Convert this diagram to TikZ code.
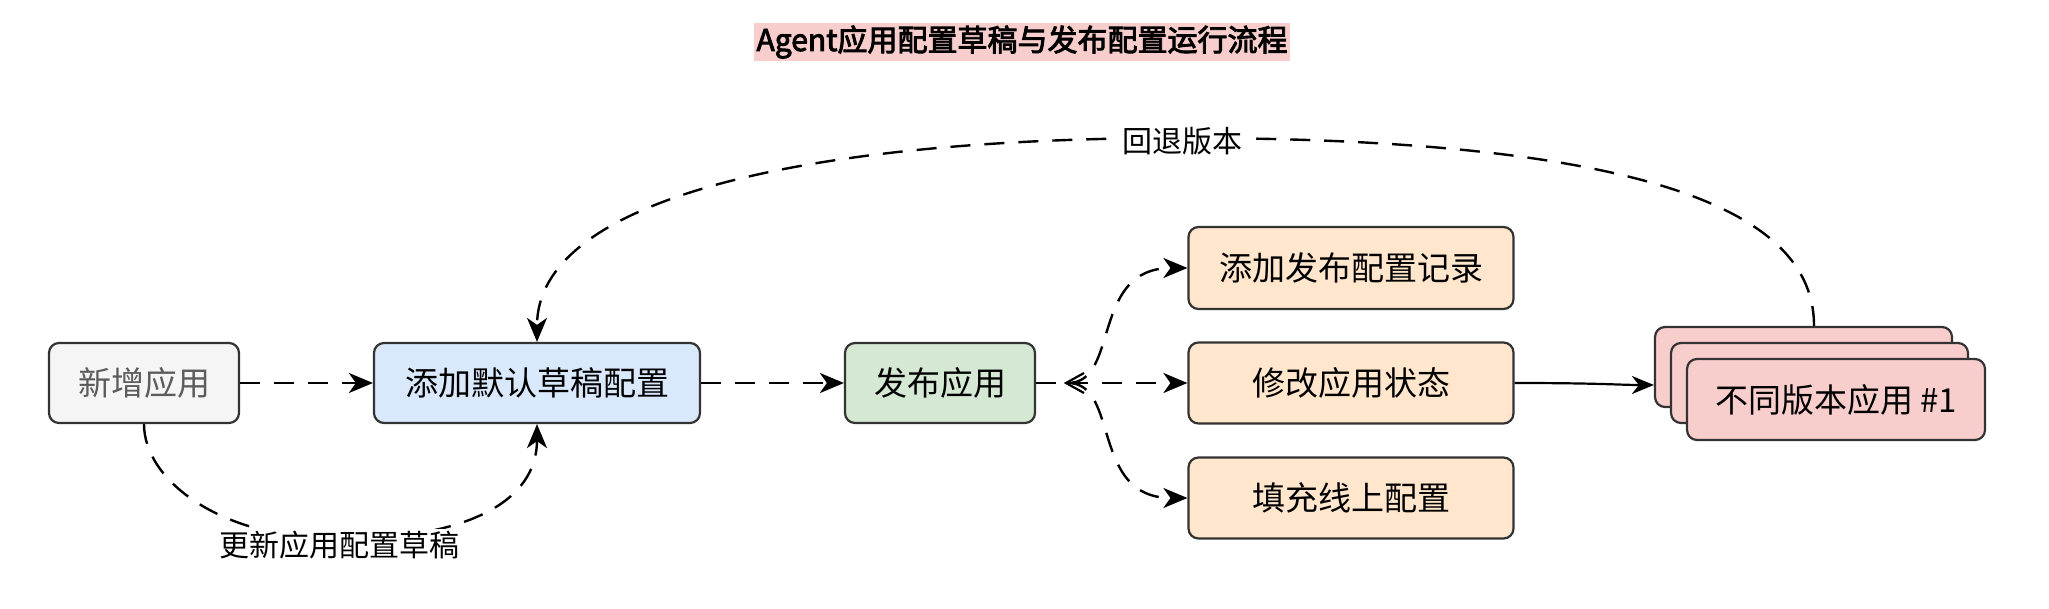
\documentclass[tikz,border=0pt]{standalone}
\usepackage{fontspec}
\setmainfont{Noto Sans CJK SC}
\newfontfamily\titlefont{Noto Sans CJK SC}[FakeBold=3]
\usetikzlibrary{arrows.meta}
\definecolor{grayf}{HTML}{F5F5F5}
\definecolor{bluef}{HTML}{DAE8FC}
\definecolor{greenf}{HTML}{D5E8D4}
\definecolor{orangef}{HTML}{FFE6CC}
\definecolor{redf}{HTML}{F8CECC}
\definecolor{edge}{HTML}{333333}
\tikzset{
 box/.style={draw=edge, line width=2.2pt, rounded corners=10pt, inner sep=0pt, font=\fontsize{33}{36}\selectfont},
 dsh/.style={line width=2.4pt, dash pattern=on 20pt off 14pt, -{Stealth[length=24pt,width=20pt,inset=7pt]}},
 lbl/.style={font=\fontsize{30}{34}\selectfont, fill=white, inner sep=2pt},
}
\begin{document}
\begin{tikzpicture}[x=1pt,y=-1pt]
\useasboundingbox (0,0) rectangle (2049,609);
\node[fill=redf, inner sep=3pt, font=\titlefont\fontsize{30}{33}\selectfont] (title) at (1022,42) {Agent应用配置草稿与发布配置运行流程};
\node[box, fill=grayf, minimum width=190pt, minimum height=80pt, text=edge!80] (new) at (144,383) {新增应用};
\node[box, fill=bluef, minimum width=326pt, minimum height=80pt] (draft) at (537,383) {添加默认草稿配置};
\node[box, fill=greenf, minimum width=190pt, minimum height=80pt] (pub) at (940,383) {发布应用};
\node[box, fill=orangef, minimum width=325pt, minimum height=82pt] (rec) at (1351,268) {添加发布配置记录};
\node[box, fill=orangef, minimum width=325pt, minimum height=81pt] (stat) at (1351,383) {修改应用状态};
\node[box, fill=orangef, minimum width=325pt, minimum height=81pt] (fill) at (1351,498) {填充线上配置};
\node[box, fill=redf, minimum width=297pt, minimum height=80pt] (v1) at (1803.5,367) {};
\node[box, fill=redf, minimum width=297pt, minimum height=80pt] (v2) at (1819.5,383) {};
\node[box, fill=redf, minimum width=298pt, minimum height=81pt] (v3) at (1836,399.5) {不同版本应用 \#1};
\coordinate (split) at (1068,383);
\draw[dsh] (new) -- (draft);
\draw[dsh] (draft) -- (pub);
\draw[line width=2.4pt, dash pattern=on 20pt off 14pt] (pub.east) -- (split);
\draw[line width=2.2pt] (1084,373) -- (1066,383) -- (1084,393);
\draw[dsh] (split) -- (stat.west);
\draw[dsh] (split) .. controls (1120,383) and (1090,268) .. (rec.west);
\draw[dsh] (split) .. controls (1120,383) and (1090,498) .. (fill.west);
\draw[line width=2.2pt, -{Stealth[length=22pt,width=18pt,inset=7pt]}] (stat.east) .. controls (1600,383) and (1620,385) .. (v1.west |- 0,385);
\draw[dsh] (v1.north -| 1814,0) .. controls (1814,230) and (1700,138) .. (1182,138) .. controls (800,138) and (537,200) .. (draft.north);
\node[lbl] (back) at (1182,141) {回退版本};
\draw[dsh] (new.south) .. controls (144,480) and (220,539) .. (339,539) .. controls (470,539) and (537,500) .. (draft.south);
\node[lbl] (upd) at (339,545) {更新应用配置草稿};
\end{tikzpicture}
\end{document}
